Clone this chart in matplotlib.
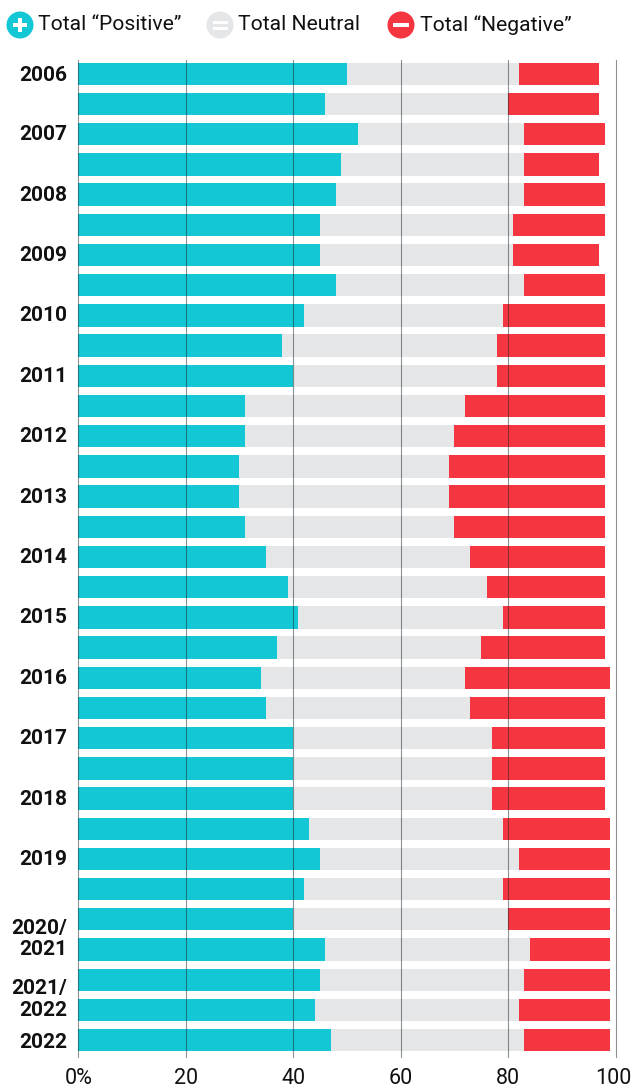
import numpy as np
import matplotlib.pyplot as plt
from matplotlib.patches import Circle, Rectangle
from matplotlib.transforms import ScaledTranslation

plt.rcParams['font.family'] = ['Roboto', 'DejaVu Sans']

# year labels and the row they sit on (two line labels sit between two rows)
labels = ['2006', '2007', '2008', '2009', '2010', '2011', '2012', '2013', '2014', '2015',
          '2016', '2017', '2018', '2019', '2020/\n2021', '2021/\n2022', '2022']
label_rows = [0, 1.95, 3.95, 5.95, 7.95, 9.95, 11.95, 13.95, 15.95, 17.95,
              19.95, 21.95, 23.95, 25.95, 28.55, 30.55, 32]
# end of positive, start of negative, end of negative
positive = [50, 46, 52, 49, 48, 45, 45, 48, 42, 38, 40, 31, 31, 30, 30, 31, 35,
            39, 41, 37, 34, 35, 40, 40, 40, 43, 45, 42, 40, 46, 45, 44, 47]
neutral_end = [82, 80, 83, 83, 83, 81, 81, 83, 79, 78, 78, 72, 70, 69, 69, 70, 73,
               76, 79, 75, 72, 73, 77, 77, 77, 79, 82, 79, 80, 84, 83, 82, 83]
negative_end = [97, 97, 98, 97, 98, 98, 97, 98, 98, 98, 98, 98, 98, 98, 98, 98, 98,
                98, 98, 98, 99, 98, 98, 98, 98, 99, 99, 99, 99, 99, 99, 99, 99]
ticks = [0, 20, 40, 60, 80, 100]
tick_labels = ['0%', '20', '40', '60', '80', '100']

W, H = 631, 1089
TEAL = '#13c8d4'
GREY = '#e5e6e8'
RED = '#f53640'

fig = plt.figure(figsize=(W / 100, H / 100), dpi=100)
ax = fig.add_axes([78.2 / W, 1 - 1057 / H, (615.5 - 78.2) / W, (1057 - 60) / H])
positive = np.array(positive)
neutral_end = np.array(neutral_end)
negative_end = np.array(negative_end)
y = np.arange(len(positive))

ax.barh(y, positive, height=0.74, color=TEAL, zorder=2)
ax.barh(y, neutral_end - positive, left=positive, height=0.74, color=GREY, zorder=2)
ax.barh(y, negative_end - neutral_end, left=neutral_end, height=0.74, color=RED, zorder=2)

ax.set_xlim(0, 100)
ax.set_ylim(len(positive) - 1 + 0.56, -0.46)
for s in ax.spines.values():
    s.set_visible(False)
for t in ticks:
    ax.axvline(t, color='#20262a', lw=0.8, alpha=0.5, zorder=3, clip_on=False)

ax.set_xticks(ticks)
ax.set_xticklabels(tick_labels, fontsize=15.5, color='#111111')
ax.tick_params(axis='x', length=0, pad=8)
ax.set_yticks(label_rows)
ax.set_yticklabels(labels, fontsize=15, fontweight='bold', color='#111111', linespacing=1.15)
ax.tick_params(axis='y', length=0, pad=8)

# 100 would run off the right edge
last = ax.get_xticklabels()[-1]
last.set_transform(last.get_transform() + ScaledTranslation(-2 / 100, 0, fig.dpi_scale_trans))

# legend drawn in pixel coordinates
leg = fig.add_axes([0, 0, 1, 1], zorder=5)
leg.set_xlim(0, W)
leg.set_ylim(H, 0)
leg.axis('off')
items = [(20, TEAL, 'Total “Positive”', '+'), (220, GREY, 'Total Neutral', '='), (401, RED, 'Total “Negative”', '-')]
for cx, col, txt, sym in items:
    leg.add_patch(Circle((cx, 25), 13.5, color=col, lw=0))
    if sym == '+':
        leg.add_patch(Rectangle((cx - 7, 23.4), 14, 3.2, color='white', lw=0))
        leg.add_patch(Rectangle((cx - 1.6, 18), 3.2, 14, color='white', lw=0))
    elif sym == '=':
        leg.add_patch(Rectangle((cx - 7.5, 20.5), 15, 3.2, color='white', lw=0))
        leg.add_patch(Rectangle((cx - 7.5, 26.5), 15, 3.2, color='white', lw=0))
    else:
        leg.add_patch(Rectangle((cx - 8, 23.4), 16, 3.4, color='white', lw=0))
    leg.text(cx + 18.5, 25, txt, fontsize=15.2, va='center', ha='left', color='#111111')

fig.savefig('out.png', dpi=100)
